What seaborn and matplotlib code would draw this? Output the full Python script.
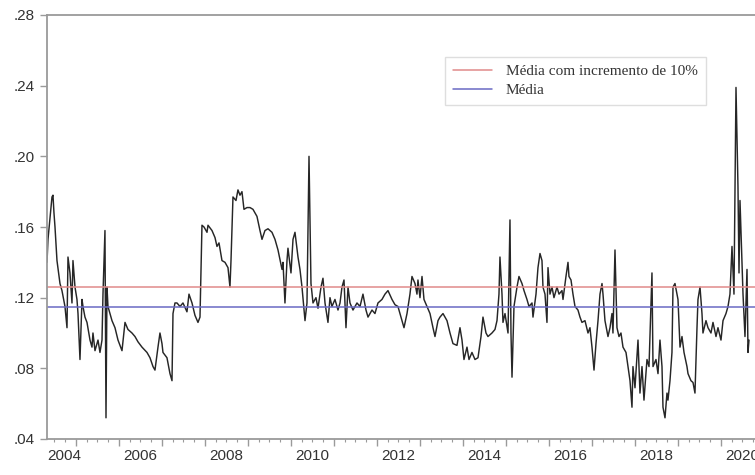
import matplotlib
matplotlib.use("Agg")
import matplotlib.pyplot as plt
import matplotlib.ticker as mticker
import seaborn as sns
import pandas as pd
import numpy as np

# Série semanal (ano decimal, valor)
anos = [
    2004.326, 2004.349, 2004.395, 2004.442, 2004.465, 2004.488, 2004.512, 2004.558, 2004.628, 2004.674,
    2004.744, 2004.791, 2004.814, 2004.860, 2004.907, 2004.930, 2004.977, 2005.023, 2005.047, 2005.093,
    2005.140, 2005.163, 2005.209, 2005.256, 2005.326, 2005.372, 2005.395, 2005.442, 2005.512, 2005.558,
    2005.605, 2005.628, 2005.674, 2005.698, 2005.721, 2005.744, 2005.837, 2005.907, 2005.977, 2006.070,
    2006.140, 2006.209, 2006.302, 2006.372, 2006.442, 2006.535, 2006.651, 2006.721, 2006.791, 2006.837,
    2006.907, 2006.953, 2007.000, 2007.023, 2007.116, 2007.186, 2007.233, 2007.256, 2007.302, 2007.349,
    2007.419, 2007.488, 2007.581, 2007.628, 2007.698, 2007.767, 2007.837, 2007.884, 2007.930, 2007.977,
    2008.047, 2008.070, 2008.163, 2008.233, 2008.279, 2008.326, 2008.395, 2008.465, 2008.535, 2008.581,
    2008.605, 2008.651, 2008.721, 2008.767, 2008.814, 2008.860, 2008.907, 2008.977, 2009.047, 2009.116,
    2009.209, 2009.279, 2009.326, 2009.395, 2009.465, 2009.558, 2009.628, 2009.698, 2009.791, 2009.814,
    2009.860, 2009.907, 2009.930, 2010.000, 2010.047, 2010.093, 2010.163, 2010.209, 2010.256, 2010.326,
    2010.372, 2010.419, 2010.465, 2010.512, 2010.581, 2010.628, 2010.698, 2010.744, 2010.791, 2010.860,
    2010.907, 2010.953, 2011.023, 2011.093, 2011.140, 2011.186, 2011.233, 2011.279, 2011.326, 2011.372,
    2011.442, 2011.535, 2011.605, 2011.674, 2011.744, 2011.791, 2011.884, 2011.953, 2012.023, 2012.116,
    2012.186, 2012.256, 2012.349, 2012.419, 2012.488, 2012.628, 2012.698, 2012.767, 2012.814, 2012.884,
    2012.930, 2012.953, 2013.000, 2013.047, 2013.093, 2013.163, 2013.233, 2013.302, 2013.349, 2013.419,
    2013.465, 2013.535, 2013.628, 2013.698, 2013.767, 2013.860, 2013.930, 2013.977, 2014.023, 2014.093,
    2014.140, 2014.209, 2014.279, 2014.349, 2014.419, 2014.465, 2014.535, 2014.581, 2014.674, 2014.744,
    2014.791, 2014.837, 2014.860, 2014.907, 2014.930, 2014.977, 2015.047, 2015.093, 2015.116, 2015.140,
    2015.186, 2015.256, 2015.302, 2015.372, 2015.419, 2015.488, 2015.535, 2015.605, 2015.628, 2015.698,
    2015.744, 2015.791, 2015.837, 2015.860, 2015.907, 2015.953, 2015.977, 2016.023, 2016.070, 2016.116,
    2016.186, 2016.233, 2016.302, 2016.326, 2016.395, 2016.442, 2016.465, 2016.512, 2016.558, 2016.605,
    2016.674, 2016.721, 2016.767, 2016.837, 2016.907, 2016.953, 2017.000, 2017.047, 2017.093, 2017.140,
    2017.186, 2017.233, 2017.256, 2017.302, 2017.372, 2017.419, 2017.465, 2017.488, 2017.535, 2017.581,
    2017.628, 2017.674, 2017.721, 2017.791, 2017.837, 2017.884, 2017.930, 2017.953, 2018.000, 2018.070,
    2018.116, 2018.163, 2018.209, 2018.279, 2018.326, 2018.395, 2018.419, 2018.488, 2018.535, 2018.581,
    2018.628, 2018.651, 2018.698, 2018.744, 2018.767, 2018.814, 2018.860, 2018.884, 2018.930, 2018.977,
    2019.000, 2019.047, 2019.093, 2019.140, 2019.209, 2019.233, 2019.302, 2019.349, 2019.395, 2019.442,
    2019.465, 2019.512, 2019.558, 2019.581, 2019.651, 2019.698, 2019.767, 2019.814, 2019.884, 2019.930,
    2020.000, 2020.047, 2020.116, 2020.163, 2020.209, 2020.256, 2020.302, 2020.349, 2020.395, 2020.419,
    2020.442, 2020.488, 2020.512, 2020.558, 2020.605, 2020.628, 2020.651,
]
taxa = [
    0.140, 0.153, 0.165, 0.177, 0.178, 0.168, 0.160, 0.141, 0.128, 0.124,
    0.115, 0.103, 0.143, 0.134, 0.117, 0.141, 0.126, 0.119, 0.111, 0.085,
    0.119, 0.115, 0.109, 0.106, 0.096, 0.092, 0.100, 0.090, 0.096, 0.089,
    0.096, 0.122, 0.158, 0.052, 0.126, 0.115, 0.107, 0.103, 0.096, 0.090,
    0.106, 0.102, 0.100, 0.098, 0.095, 0.092, 0.089, 0.086, 0.081, 0.079,
    0.092, 0.100, 0.094, 0.089, 0.086, 0.077, 0.073, 0.111, 0.117, 0.117,
    0.115, 0.117, 0.112, 0.122, 0.117, 0.110, 0.106, 0.109, 0.161, 0.160,
    0.157, 0.161, 0.158, 0.154, 0.149, 0.151, 0.141, 0.140, 0.137, 0.126,
    0.141, 0.177, 0.175, 0.181, 0.178, 0.180, 0.170, 0.171, 0.171, 0.170,
    0.166, 0.158, 0.153, 0.158, 0.159, 0.157, 0.153, 0.147, 0.136, 0.140,
    0.117, 0.141, 0.148, 0.134, 0.153, 0.157, 0.143, 0.136, 0.126, 0.107,
    0.117, 0.200, 0.128, 0.117, 0.120, 0.114, 0.126, 0.131, 0.117, 0.106,
    0.120, 0.115, 0.119, 0.113, 0.117, 0.126, 0.130, 0.103, 0.126, 0.117,
    0.113, 0.117, 0.115, 0.122, 0.113, 0.109, 0.113, 0.111, 0.117, 0.119,
    0.122, 0.124, 0.119, 0.116, 0.115, 0.103, 0.111, 0.122, 0.132, 0.128,
    0.122, 0.130, 0.120, 0.132, 0.119, 0.115, 0.111, 0.103, 0.098, 0.107,
    0.109, 0.111, 0.107, 0.100, 0.094, 0.093, 0.103, 0.096, 0.085, 0.092,
    0.085, 0.089, 0.085, 0.086, 0.098, 0.109, 0.100, 0.098, 0.100, 0.102,
    0.107, 0.122, 0.143, 0.122, 0.106, 0.111, 0.100, 0.164, 0.100, 0.075,
    0.115, 0.126, 0.132, 0.128, 0.124, 0.119, 0.115, 0.117, 0.109, 0.122,
    0.137, 0.145, 0.141, 0.126, 0.122, 0.106, 0.137, 0.122, 0.126, 0.120,
    0.126, 0.122, 0.124, 0.119, 0.132, 0.140, 0.132, 0.130, 0.122, 0.115,
    0.113, 0.109, 0.106, 0.107, 0.100, 0.103, 0.092, 0.079, 0.094, 0.107,
    0.122, 0.128, 0.122, 0.107, 0.098, 0.103, 0.111, 0.100, 0.147, 0.103,
    0.098, 0.100, 0.092, 0.089, 0.081, 0.073, 0.058, 0.081, 0.069, 0.096,
    0.066, 0.081, 0.062, 0.085, 0.081, 0.134, 0.081, 0.085, 0.077, 0.096,
    0.081, 0.058, 0.052, 0.066, 0.062, 0.073, 0.089, 0.126, 0.128, 0.122,
    0.119, 0.092, 0.098, 0.089, 0.081, 0.077, 0.073, 0.072, 0.066, 0.103,
    0.119, 0.126, 0.111, 0.100, 0.107, 0.103, 0.100, 0.106, 0.098, 0.103,
    0.096, 0.107, 0.111, 0.115, 0.122, 0.149, 0.122, 0.239, 0.183, 0.134,
    0.175, 0.140, 0.122, 0.098, 0.136, 0.089, 0.096,
]

media = 0.1147
media_10 = media * 1.10

rotulos_anos = ["2004", "2006", "2008", "2010", "2012", "2014", "2016", "2018", "2020"]
rotulos_y = [0.04, 0.08, 0.12, 0.16, 0.20, 0.24, 0.28]

sns.set_style("white")
plt.rcParams["font.family"] = ["Liberation Sans", "DejaVu Sans"]

df = pd.DataFrame({"ano": anos, "taxa": taxa})

fig = plt.figure(figsize=(7.55, 4.75), dpi=100)
ax = fig.add_axes([47 / 755, 36 / 475, 708 / 755, 424 / 475])

sns.lineplot(data=df, x="ano", y="taxa", ax=ax, color="#262626", lw=1.05,
             estimator=None, sort=False, legend=False)
ax.axhline(media_10, color="#e08a8a", lw=1.1, label="Média com incremento de 10%")
ax.axhline(media, color="#6a6ac4", lw=1.1, label="Média")

x0, x1 = 2004.326, 2020.791
ax.set_xlim(x0, x1)
ax.set_ylim(0.04, 0.28)
ax.set_xlabel("")
ax.set_ylabel("")

for lado in ["left", "bottom", "top"]:
    ax.spines[lado].set_color("#9a9a9a")
    ax.spines[lado].set_linewidth(1.3)
ax.spines["right"].set_visible(False)

# Eixo Y
ax.set_yticks(rotulos_y)
ax.yaxis.set_major_formatter(mticker.FuncFormatter(lambda v, p: f"{v:.2f}".lstrip("0")))
ax.tick_params(axis="y", direction="out", length=5, width=1, color="#9a9a9a",
               labelsize=11, labelcolor="#333333", pad=4, left=True)

# Eixo X: rótulos no meio de cada ano par (o primeiro encostado ao eixo)
posicoes = [int(a) + 0.5 for a in rotulos_anos]
posicoes[0] = x0
ax.set_xticks(posicoes)
ax.set_xticklabels(rotulos_anos)
ax.get_xticklabels()[0].set_horizontalalignment("left")
ax.tick_params(axis="x", length=0, labelsize=11, labelcolor="#333333", pad=7)

# Marcas anuais e trimestrais
sec = ax.secondary_xaxis("bottom")
sec.set_xticks(range(2004, 2022))
sec.set_xticklabels([])
sec.xaxis.set_minor_locator(mticker.MultipleLocator(0.25))
sec.tick_params(axis="x", which="major", direction="out", length=5, width=1, color="#9a9a9a")
sec.tick_params(axis="x", which="minor", direction="out", length=2.5, width=0.8, color="#9a9a9a")
sec.spines["bottom"].set_visible(False)

leg = ax.legend(loc="upper left", bbox_to_anchor=(0.562, 0.901), borderaxespad=0,
                frameon=True, fancybox=False, handlelength=2.6, handletextpad=0.9,
                borderpad=0.5, labelspacing=0.35,
                prop={"family": ["Liberation Serif", "DejaVu Serif"], "size": 11})
leg.get_frame().set_edgecolor("#d6d6d6")
leg.get_frame().set_linewidth(1.0)
for t in leg.get_texts():
    t.set_color("#333333")

fig.savefig("out.png", dpi=100)
